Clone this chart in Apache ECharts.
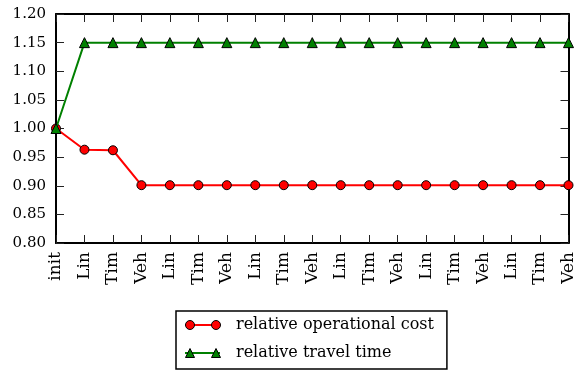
<!DOCTYPE html>
<html>
<head>
<meta charset="utf-8">
<script src="https://cdn.jsdelivr.net/npm/echarts@6/dist/echarts.min.js"></script>
<style>
  html, body { margin: 0; padding: 0; background: #fff; }
  #chart { width: 577px; height: 370px; }
</style>
</head>
<body>
<div id="chart"></div>
<script>
// Steps of the optimisation run
const categories = ['init',
  'Lin', 'Tim', 'Veh', 'Lin', 'Tim', 'Veh', 'Lin', 'Tim', 'Veh',
  'Lin', 'Tim', 'Veh', 'Lin', 'Tim', 'Veh', 'Lin', 'Tim', 'Veh'];

// Relative values after each step
const operationalCost = [1.000,
  0.963, 0.962, 0.901, 0.901, 0.901, 0.901, 0.901, 0.901, 0.901,
  0.901, 0.901, 0.901, 0.901, 0.901, 0.901, 0.901, 0.901, 0.901];
const travelTime = [1.000,
  1.150, 1.150, 1.150, 1.150, 1.150, 1.150, 1.150, 1.150, 1.150,
  1.150, 1.150, 1.150, 1.150, 1.150, 1.150, 1.150, 1.150, 1.150];

const seriesNames = ['relative operational cost', 'relative travel time'];
const yMin = 0.80, yMax = 1.20, yStep = 0.05;

const FONT = 'DejaVu Serif';
const RED = '#ff0000', GREEN = '#008000';

const chart = echarts.init(document.getElementById('chart'), null, { renderer: 'canvas' });

const tickStyle = { show: true, inside: true, length: 8, lineStyle: { color: '#222', width: 1 } };
const spine = { show: true, onZero: false, lineStyle: { color: '#000', width: 2 } };

// Icon paths for the legend markers (two markers joined by the line)
const circlePair = 'path://M0,4.5 A4.5,4.5 0 1,1 9,4.5 A4.5,4.5 0 1,1 0,4.5 Z M26,4.5 A4.5,4.5 0 1,1 35,4.5 A4.5,4.5 0 1,1 26,4.5 Z';
const trianglePair = 'path://M0,9 L4.5,0 L9,9 Z M26,9 L30.5,0 L35,9 Z';

const legendBase = {
  orient: 'vertical',
  left: 176,
  top: 311,
  padding: [5, 13, 7, 9],
  itemGap: 10,
  itemWidth: 35,
  selectedMode: false,
  textStyle: { fontFamily: FONT, fontSize: 16, lineHeight: 18, color: '#000', padding: [0, 0, 0, 11] }
};

chart.setOption({
  animation: false,
  backgroundColor: '#fff',
  grid: { left: 56, right: 5, top: 14, bottom: 127, containLabel: false },
  xAxis: [
    {
      type: 'category', data: categories, boundaryGap: false, position: 'bottom',
      axisLine: spine,
      axisTick: Object.assign({ interval: 0 }, tickStyle),
      axisLabel: { interval: 0, rotate: 90, margin: 9, fontFamily: FONT, fontSize: 17, color: '#000' },
      splitLine: { show: false }
    },
    {
      type: 'category', data: categories, boundaryGap: false, position: 'top',
      axisLine: spine,
      axisTick: Object.assign({ interval: 0 }, tickStyle),
      axisLabel: { show: false },
      splitLine: { show: false }
    }
  ],
  yAxis: [
    {
      type: 'value', min: yMin, max: yMax, interval: yStep, position: 'left',
      axisLine: spine, axisTick: tickStyle,
      axisLabel: { margin: 10, fontFamily: FONT, fontSize: 15, color: '#000',
                   formatter: v => v.toFixed(2) },
      splitLine: { show: false }
    },
    {
      type: 'value', min: yMin, max: yMax, interval: yStep, position: 'right',
      axisLine: spine, axisTick: tickStyle,
      axisLabel: { show: false },
      splitLine: { show: false }
    }
  ],
  legend: [
    // line part of each legend entry, with the framed box and the labels
    Object.assign({}, legendBase, {
      itemHeight: 2,
      borderColor: '#000', borderWidth: 1.5, borderRadius: 0, backgroundColor: '#fff',
      data: [
        { name: seriesNames[0], icon: 'rect', itemStyle: { color: RED, borderWidth: 0 } },
        { name: seriesNames[1], icon: 'rect', itemStyle: { color: GREEN, borderWidth: 0 } }
      ]
    }),
    // marker part of each legend entry, laid over the line part
    Object.assign({}, legendBase, {
      itemHeight: 9,
      borderWidth: 0,
      textStyle: Object.assign({}, legendBase.textStyle, { color: 'rgba(0,0,0,0)' }),
      data: [
        { name: seriesNames[0], icon: circlePair, itemStyle: { color: RED, borderColor: '#000', borderWidth: 1 } },
        { name: seriesNames[1], icon: trianglePair, itemStyle: { color: GREEN, borderColor: '#000', borderWidth: 1 } }
      ]
    })
  ],
  series: [
    {
      name: seriesNames[0], type: 'line', data: operationalCost,
      xAxisIndex: 0, yAxisIndex: 0,
      symbol: 'circle', symbolSize: 9, showAllSymbol: true,
      lineStyle: { color: RED, width: 2 },
      itemStyle: { color: RED, borderColor: '#000', borderWidth: 1 },
      z: 3
    },
    {
      name: seriesNames[1], type: 'line', data: travelTime,
      xAxisIndex: 0, yAxisIndex: 0,
      symbol: 'triangle', symbolSize: 10, showAllSymbol: true,
      lineStyle: { color: GREEN, width: 2 },
      itemStyle: { color: GREEN, borderColor: '#000', borderWidth: 1 },
      z: 4
    }
  ]
});
</script>
</body>
</html>
